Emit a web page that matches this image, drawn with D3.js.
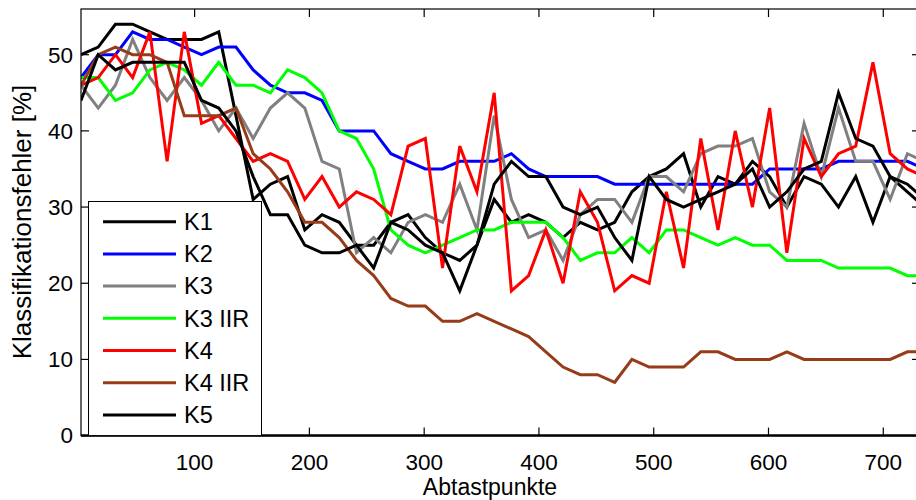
<!DOCTYPE html>
<html><head><meta charset="utf-8">
<script src="https://cdn.jsdelivr.net/npm/d3@7"></script>
<style>body{margin:0;background:#fff}svg{display:block}text{font-family:"Liberation Sans",Arial,Helvetica,sans-serif;fill:#000}</style>
</head><body><svg id="c" width="916" height="500"></svg>
<script>
const xs = [1,16,31,46,61,76,91,106,121,136,151,166,181,196,211,226,241,256,271,286,301,316,331,346,361,376,391,406,421,436,451,466,481,496,511,526,541,556,571,586,601,616,631,646,661,676,691,706,721,736];
const K1 = [50,51,54,54,53,52,52,52,53,42,31,33,34,27,29,28,25,25,28,29,26,24,23,25,31,28,29,28,26,28,27,28,32,34,35,37,30,34,33,36,34,30,34,33,30,34,28,34,32,30];
const K2 = [47,50,50,53,52,52,51,50,51,51,48,46,45,45,44,40,40,40,37,36,35,35,36,36,36,37,35,34,34,34,34,33,33,33,33,33,33,33,33,33,35,35,35,35,36,36,36,36,36,35];
const K3 = [46,43,46,52,47,44,47,44,40,43,39,43,45,43,36,35,24,26,24,28,29,28,33,27,42,31,26,27,23,29,31,31,28,34,34,32,37,38,38,39,32,30,41,34,43,36,36,31,37,36];
const K3IIR = [47,47,44,45,48,49,48,46,49,46,46,45,48,47,45,40,39,35,27,25,24,25,26,27,27,28,28,28,26,23,24,24,26,24,27,27,26,25,26,25,25,23,23,23,22,22,22,22,21,21];
const K4 = [46,47,50,47,53,36,53,41,42,39,36,37,36,31,34,30,32,31,29,38,39,22,38,32,45,19,21,27,20,32,28,19,21,20,32,22,39,27,40,30,43,24,39,34,37,38,49,37,35,34];
const K4IIR = [46,50,51,50,50,49,42,42,42,43,37,35,32,28,28,26,23,21,18,17,17,15,15,16,15,14,13,11,9,8,8,7,10,9,9,9,11,11,10,10,10,11,10,10,10,10,10,10,11,11];
const K5 = [44,50,48,49,49,49,49,44,43,40,34,29,29,25,24,24,25,22,28,27,25,24,19,25,33,36,34,34,30,29,30,26,23,34,31,30,31,32,33,35,30,32,35,36,45,39,38,34,33,31];
const seriesNames = ["K1","K2","K3","K3 IIR","K4","K4 IIR","K5"];
const seriesValues = [K1,K2,K3,K3IIR,K4,K4IIR,K5];
const seriesColors = ["#000000","#0000ff","#808080","#00ff00","#ff0000","#963c19","#000000"];
const xTicks = [100,200,300,400,500,600,700];
const yTicks = [0,10,20,30,40,50];
const xLabel = "Abtastpunkte";
const yLabel = "Klassifikationsfehler [%]";

const svg = d3.select("#c");
const L = 81, R = 920, T = 9, B = 435.6;
const x = d3.scaleLinear().domain([1,732]).range([L,R]);
const y = d3.scaleLinear().domain([0,56]).range([B,T]);

svg.append("defs").append("clipPath").attr("id","clip")
  .append("rect").attr("x",L).attr("y",T).attr("width",R-L).attr("height",B-T);

const g = svg.append("g").attr("clip-path","url(#clip)");
const line = d3.line().x((d,i)=>x(xs[i])).y(d=>y(d));
seriesValues.forEach((vals,k)=>{
  g.append("path").datum(vals).attr("d",line)
    .attr("fill","none").attr("stroke",seriesColors[k]).attr("stroke-width",3)
    .attr("stroke-linejoin","miter").attr("stroke-miterlimit",4);
});

// axes box
const tl = 8;
svg.append("rect").attr("x",L).attr("y",T).attr("width",R-L).attr("height",B-T)
  .attr("fill","none").attr("stroke","#000").attr("stroke-width",1.2);
svg.append("line").attr("x1",L).attr("x2",R).attr("y1",B).attr("y2",B).attr("stroke","#000").attr("stroke-width",2.5);

const fs = 23.5;
xTicks.forEach(t=>{
  svg.append("line").attr("x1",x(t)).attr("x2",x(t)).attr("y1",B).attr("y2",B-tl).attr("stroke","#000").attr("stroke-width",1.2);
  svg.append("line").attr("x1",x(t)).attr("x2",x(t)).attr("y1",T).attr("y2",T+tl).attr("stroke","#000").attr("stroke-width",1.2);
  svg.append("text").attr("x",x(t)).attr("y",470).attr("text-anchor","middle").attr("font-size",22.5).text(t);
});
yTicks.forEach(t=>{
  svg.append("line").attr("x1",L).attr("x2",L+tl).attr("y1",y(t)).attr("y2",y(t)).attr("stroke","#000").attr("stroke-width",1.2);
  svg.append("line").attr("x1",R).attr("x2",R-tl).attr("y1",y(t)).attr("y2",y(t)).attr("stroke","#000").attr("stroke-width",1.2);
  svg.append("text").attr("x",73).attr("y",y(t)).attr("dy","0.35em").attr("text-anchor","end").attr("font-size",22.5).text(t);
});
svg.append("text").attr("x",490).attr("y",495).attr("text-anchor","middle").attr("font-size",23).text(xLabel);
svg.append("text").attr("transform","translate(31,222) rotate(-90)").attr("text-anchor","middle").attr("font-size",26).text(yLabel);

// legend
const lg = svg.append("g");
lg.append("rect").attr("x",88.5).attr("y",201.5).attr("width",173).attr("height",B-201.5)
  .attr("fill","#fff").attr("stroke","#000").attr("stroke-width",1);
seriesNames.forEach((n,k)=>{
  const yy = 221.7 + k*32.2;
  lg.append("line").attr("x1",103).attr("x2",176).attr("y1",yy).attr("y2",yy)
    .attr("stroke",seriesColors[k]).attr("stroke-width",3);
  lg.append("text").attr("x",184).attr("y",yy).attr("dy","0.35em").attr("font-size",fs).text(n);
});
</script></body></html>
